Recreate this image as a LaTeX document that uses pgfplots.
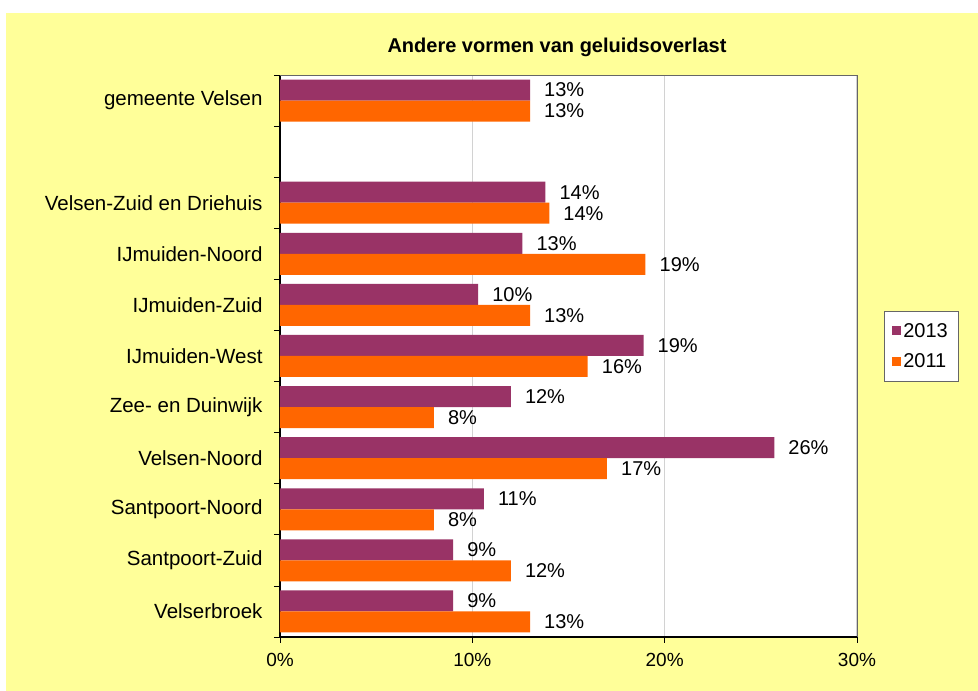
\documentclass[border=0pt]{standalone}
\usepackage{fontspec}
\setmainfont{Liberation Sans}
\usepackage{pgfplots}
\pgfplotsset{compat=1.18}
\definecolor{cpurple}{HTML}{993366}
\definecolor{corange}{HTML}{FF6600}
\definecolor{cyellow}{HTML}{FFFF99}
\begin{document}
\begin{tikzpicture}
\useasboundingbox (0pt,0pt) rectangle (978pt,691pt);
\fill[white] (0pt,0pt) rectangle (978pt,691pt);
\fill[cyellow] (6pt,0pt) rectangle (978pt,678pt);
\node[font=\bfseries\fontsize{20}{24}\selectfont] at (557pt,644pt) {Andere vormen van geluidsoverlast};
\begin{axis}[
  at={(280pt,54pt)}, anchor=south west,
  width=577pt, height=562pt, scale only axis,
  xbar, bar width=21pt,
  xmin=0, xmax=30, ymin=-0.5, ymax=10.5,
  enlargelimits=false, clip=false,
  axis background/.style={fill=white},
  /pgf/number format/assume math mode=true,
  xtick={0,10,20,30},
  xticklabels={0\%,10\%,20\%,30\%},
  xticklabel style={font=\fontsize{19}{22}\selectfont, yshift=-7pt},
  ytick={-0.5,0.5,...,10.5},
  yticklabels={{},{},{},{},{},{},{},{},{},{},{},{}},
  extra y ticks={0,1,2,3,4,5,6,7,8,10},
  extra y tick labels={Velserbroek, Santpoort-Zuid, Santpoort-Noord, Velsen-Noord, Zee- en Duinwijk, IJmuiden-West, IJmuiden-Zuid, IJmuiden-Noord, Velsen-Zuid en Driehuis, gemeente Velsen},
  extra y tick style={major tick length=0pt, yticklabel style={font=\fontsize{20.5}{24}\selectfont, xshift=-14pt}},
  minor tick num=0,
  tick align=outside,
  major tick length=6pt,
  tick style={draw=black, line width=0.8pt},
  axis x line*=bottom, axis y line*=left,
  axis line style={-, black, line width=1.2pt},
  xmajorgrids, major grid style={draw=gray!35, line width=1.5pt},
  after end axis/.code={\draw[gray!80!black, line width=0.8pt] (rel axis cs:0,1) -- (rel axis cs:1,1) -- (rel axis cs:1,0);},
  point meta=x,
  nodes near coords={\pgfmathprintnumber[fixed,precision=0]{\pgfplotspointmeta}\%},
  every node near coord/.append style={anchor=west, xshift=13pt, inner sep=1pt, font=\fontsize{20}{22}\selectfont, text=black},
  legend style={at={(1.047,0.58)}, anchor=north west, draw=gray!80!black, fill=white, font=\fontsize{20}{22}\selectfont, row sep=11pt, inner xsep=8pt, inner ysep=10pt},
  legend cell align=left,
  legend image code/.code={\fill[#1] (0pt,-4.5pt) rectangle (9pt,4.5pt);},
]
\addplot[fill=cpurple, draw=none, bar shift=10.5pt] coordinates {
(9.0,0) (9.0,1) (10.6,2) (25.7,3) (12.0,4) (18.9,5) (10.3,6) (12.6,7) (13.8,8) (13.0,10)};
\addplot[fill=corange, draw=none, bar shift=-10.5pt] coordinates {
(13.0,0) (12.0,1) (8.0,2) (17.0,3) (8.0,4) (16.0,5) (13.0,6) (19.0,7) (14.0,8) (13.0,10)};
\legend{2013,2011}
\end{axis}
\end{tikzpicture}
\end{document}
